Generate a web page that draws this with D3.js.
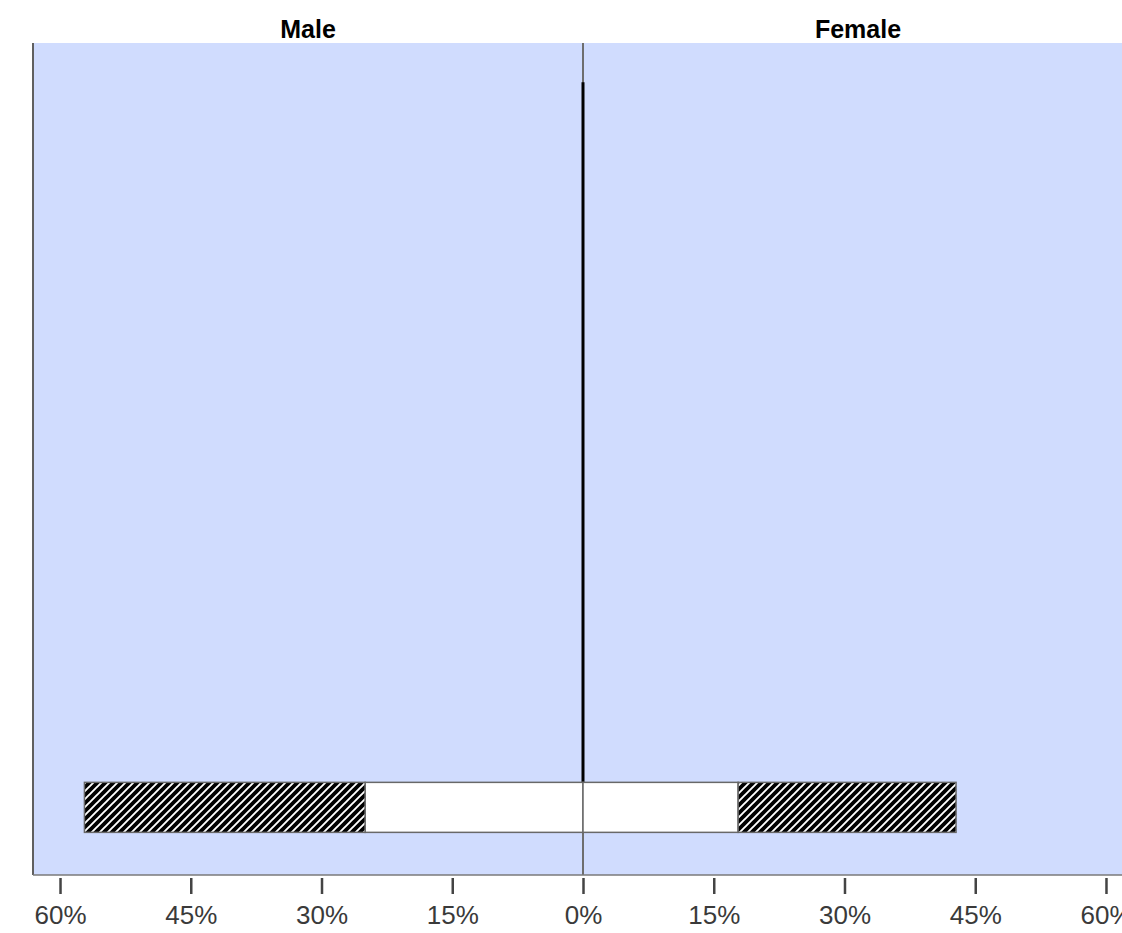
<!DOCTYPE html>
<html>
<head>
<meta charset="utf-8">
<script src="https://cdn.jsdelivr.net/npm/d3@7"></script>
<style>
  body { margin: 0; background: #fff; }
  text { font-family: "Liberation Sans", Arial, sans-serif; }
</style>
</head>
<body>
<div id="chart"></div>
<script>
// age groups (only the last one holds values in this picture)
var groups = ["g1", "g2", "g3", "g4", "g5", "g6", "g7", "g8"];
var maleInner = [0, 0, 0, 0, 0, 0, 0, 25.0];
var maleOuter = [0, 0, 0, 0, 0, 0, 0, 32.2];
var femaleInner = [0, 0, 0, 0, 0, 0, 0, 17.8];
var femaleOuter = [0, 0, 0, 0, 0, 0, 0, 25.0];
var sides = ["Male", "Female"];
var tickValues = [-60, -45, -30, -15, 0, 15, 30, 45, 60];

var margin = {top: 43, right: -11, bottom: 58, left: 33},
    W = 1122, H = 933,
    width = W - margin.left - margin.right,
    height = H - margin.top - margin.bottom;

var svg = d3.select("#chart").append("svg")
  .attr("width", W)
  .attr("height", H);

// diagonal hatch used for the outer segments
var defs = svg.append("defs");
var pat = defs.append("pattern")
  .attr("id", "hatch")
  .attr("patternUnits", "userSpaceOnUse")
  .attr("width", 8)
  .attr("height", 8);
pat.append("rect").attr("width", 8).attr("height", 8).attr("fill", "#000");
pat.append("path")
  .attr("d", "M-1,9 L9,-1 M-3,3 L3,-3 M5,11 L11,5")
  .attr("stroke", "#fff").attr("stroke-width", 1.9);

var g = svg.append("g")
  .attr("transform", "translate(" + margin.left + "," + margin.top + ")");

var x = d3.scaleLinear().domain([-63.1, 63.1]).range([0, width]);
var y = d3.scaleBand().domain(groups).range([0, height])
  .paddingInner(0.5).paddingOuter(0.41).align(0.48);

// plot background
g.append("rect")
  .attr("width", width)
  .attr("height", height)
  .attr("fill", "#d0dcfe");

// zero reference line
g.append("line")
  .attr("x1", x(0)).attr("x2", x(0))
  .attr("y1", 0).attr("y2", height)
  .attr("stroke", "#6e6e6e").attr("stroke-width", 2);

g.append("line")
  .attr("x1", x(0)).attr("x2", x(0))
  .attr("y1", y(groups[0])).attr("y2", y(groups[groups.length - 1]))
  .attr("stroke", "#000").attr("stroke-width", 3);

// build bar segments
var segs = [];
groups.forEach(function(d, i) {
  segs.push({g: d, x0: -maleInner[i], x1: 0, fill: "#fff"});
  segs.push({g: d, x0: -(maleInner[i] + maleOuter[i]), x1: -maleInner[i], fill: "url(#hatch)"});
  segs.push({g: d, x0: 0, x1: femaleInner[i], fill: "#fff"});
  segs.push({g: d, x0: femaleInner[i], x1: femaleInner[i] + femaleOuter[i], fill: "url(#hatch)"});
});
segs = segs.filter(function(s) { return s.x1 - s.x0 > 0; });

g.selectAll(".seg")
  .data(segs)
  .enter()
  .append("rect")
  .attr("class", "seg")
  .attr("x", function(d) { return x(d.x0); })
  .attr("width", function(d) { return x(d.x1) - x(d.x0); })
  .attr("y", function(d) { return y(d.g); })
  .attr("height", y.bandwidth())
  .attr("fill", function(d) { return d.fill; })
  .attr("stroke", "#686868")
  .attr("stroke-width", 1.5);

// borders
g.append("line")
  .attr("x1", 0).attr("x2", 0).attr("y1", 0).attr("y2", height)
  .attr("stroke", "#606060").attr("stroke-width", 2);
g.append("line")
  .attr("x1", 0).attr("x2", width).attr("y1", height).attr("y2", height)
  .attr("stroke", "#7a7a7a").attr("stroke-width", 1.5);

// x axis
var axis = g.append("g")
  .attr("transform", "translate(0," + (height + 3) + ")")
  .call(d3.axisBottom(x)
    .tickValues(tickValues)
    .tickSizeInner(16)
    .tickSizeOuter(0)
    .tickPadding(12)
    .tickFormat(function(d) { return Math.abs(d) + "%"; }));
axis.select(".domain").remove();
axis.selectAll(".tick line").attr("stroke", "#444").attr("stroke-width", 2.5);
axis.selectAll(".tick text")
  .attr("fill", "#3a3a3a")
  .style("font-size", "26px")
  .style("font-family", "'Liberation Sans', Arial, sans-serif");

// side titles
g.selectAll(".side")
  .data(sides)
  .enter()
  .append("text")
  .attr("class", "side")
  .attr("x", function(d, i) { return i === 0 ? (x.range()[0] + x(0)) / 2 : (x(0) + x.range()[1]) / 2; })
  .attr("y", -5)
  .attr("text-anchor", "middle")
  .style("font-size", "25px")
  .style("font-weight", "bold")
  .attr("fill", "#000")
  .text(function(d) { return d; });
</script>
</body>
</html>
